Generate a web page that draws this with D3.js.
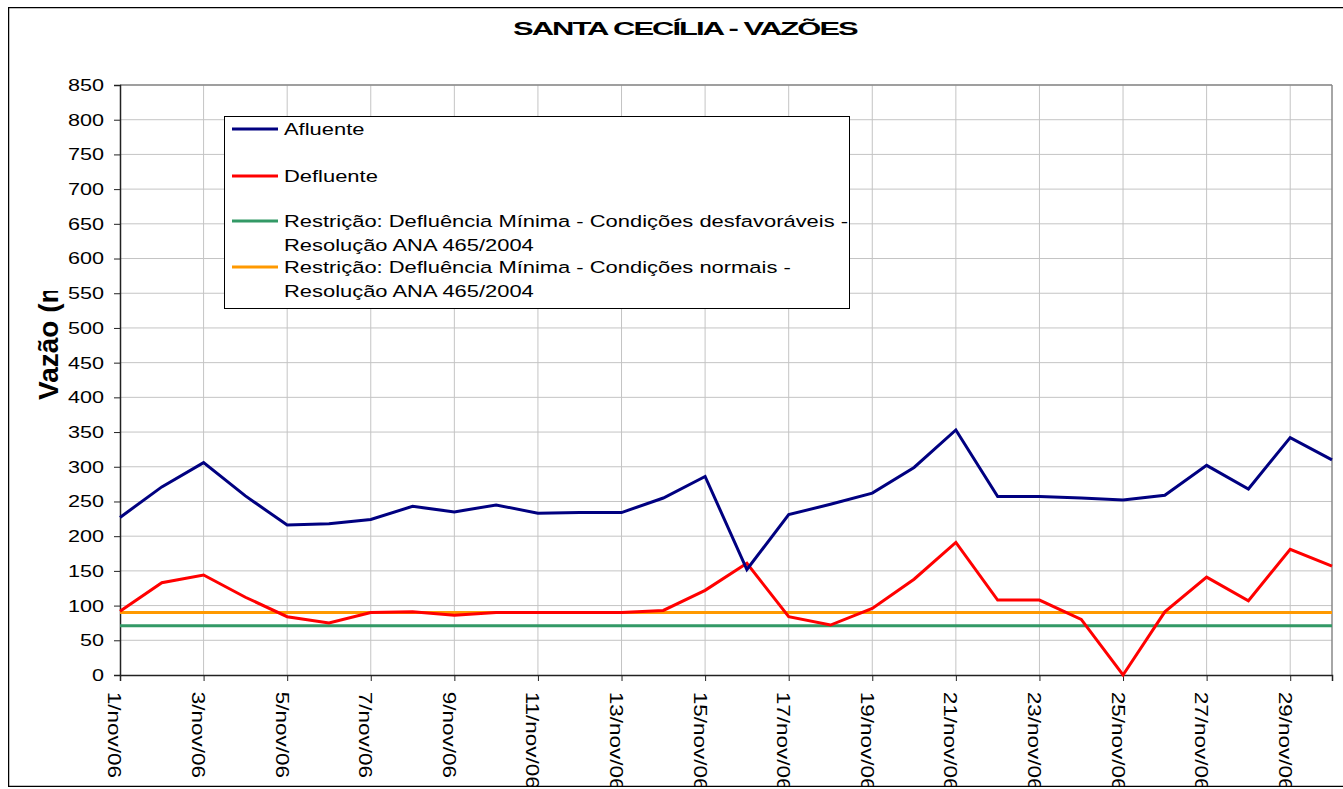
<!DOCTYPE html>
<html>
<head>
<meta charset="utf-8">
<script src="https://cdn.jsdelivr.net/npm/d3@7"></script>
<style>
  body { margin: 0; background: #fff; }
  svg { display: block; font-family: "Liberation Sans", Arial, sans-serif; }
</style>
</head>
<body>
<svg id="chart"></svg>
<script>
const width = 1343;
const height = 789;

// dias de novembro/2006
const days = d3.range(1, 31);
const afluente = [227, 271, 306, 258, 216, 218, 224, 243, 235, 245,
                  233, 234, 234, 255, 286, 152, 231, 246, 262, 299,
                  353, 257, 257, 255, 252, 259, 302, 268, 342, 310];
const defluente = [92, 133, 144, 112, 84, 75, 90, 91, 86, 90,
                   90, 90, 90, 93, 122, 161, 84, 72, 96, 138,
                   191, 108, 108, 80, 0, 91, 141, 107, 181, 157];
const restrDesfav = 71;
const restrNormal = 90;
const yTicks = d3.range(0, 851, 50);
const xTicks = d3.range(1, 31, 2);

const series = [
  { name: "Afluente", color: "#000080", values: afluente },
  { name: "Defluente", color: "#ff0000", values: defluente },
  { name: ["Restrição: Defluência Mínima - Condições desfavoráveis -", "Resolução ANA 465/2004"],
    color: "#339966", values: days.map(() => restrDesfav) },
  { name: ["Restrição: Defluência Mínima - Condições normais -", "Resolução ANA 465/2004"],
    color: "#ff9900", values: days.map(() => restrNormal) }
];

const stretch = 1.27; // o texto do original é mais largo que a fonte

const svg = d3.select("#chart").attr("width", width).attr("height", height);

const x = d3.scaleLinear().domain([1, 30]).range([120, 1332]);
const y = d3.scaleLinear().domain([0, 850]).range([675, 85]);

const defs = svg.append("defs");
defs.append("clipPath").attr("id", "frame")
  .append("rect").attr("x", 8).attr("y", 7).attr("width", 1340).attr("height", 780);
defs.append("clipPath").attr("id", "ylab")
  .append("rect").attr("x", 20).attr("y", 291).attr("width", 60).attr("height", 130);

const root = svg.append("g").attr("clip-path", "url(#frame)");

// moldura externa
root.append("rect")
  .attr("x", 8.5).attr("y", 7.5).attr("width", 1345).attr("height", 779)
  .attr("fill", "none").attr("stroke", "#000").attr("stroke-width", 1.5);

// título (esticado até a largura do original)
const title = root.append("text")
  .style("font-size", "19px").style("font-weight", "bold").style("letter-spacing", "-1.2px")
  .text("SANTA CECÍLIA - VAZÕES");
const tw = title.node().getComputedTextLength();
title.attr("transform", `translate(513,35) scale(${344 / tw},1)`);

// grade
root.append("g").selectAll("line").data(yTicks.slice(1))
  .join("line")
  .attr("x1", 120).attr("x2", 1332)
  .attr("y1", d => y(d)).attr("y2", d => y(d))
  .attr("stroke", "#c4c4c4").attr("stroke-width", 1);
root.append("g").selectAll("line").data(xTicks.slice(1))
  .join("line")
  .attr("x1", d => x(d)).attr("x2", d => x(d))
  .attr("y1", 85).attr("y2", 675)
  .attr("stroke", "#c4c4c4").attr("stroke-width", 1);
root.append("line")
  .attr("x1", 1332).attr("x2", 1332).attr("y1", 85).attr("y2", 675)
  .attr("stroke", "#888").attr("stroke-width", 1.5);
root.append("line")
  .attr("x1", 120).attr("x2", 1332).attr("y1", 85).attr("y2", 85)
  .attr("stroke", "#888").attr("stroke-width", 1.5);

// eixo Y
const yAxis = root.append("g").attr("transform", "translate(120,0)")
  .call(d3.axisLeft(y).tickValues(yTicks).tickSize(6));
yAxis.select(".domain").attr("stroke", "#222").attr("stroke-width", 1.5);
yAxis.selectAll(".tick line").attr("stroke", "#222");
yAxis.selectAll(".tick text")
  .attr("x", -16 / stretch)
  .attr("transform", `scale(${stretch},1)`)
  .style("font-size", "17px").attr("fill", "#000");

// eixo X
const xAxis = root.append("g").attr("transform", "translate(0,675)")
  .call(d3.axisBottom(x).tickValues(xTicks).tickSize(6).tickFormat(d => d + "/nov/06"));
xAxis.select(".domain").attr("stroke", "#222").attr("stroke-width", 1.5);
xAxis.selectAll(".tick line").attr("stroke", "#222");
xAxis.selectAll(".tick text")
  .attr("transform", `rotate(90) scale(${stretch - 0.02},1)`)
  .attr("x", 17 / stretch).attr("y", 12).attr("dy", null)
  .attr("text-anchor", "start")
  .style("font-size", "18px").attr("fill", "#000");

// título do eixo Y (cortado no original)
root.append("g").attr("clip-path", "url(#ylab)")
  .append("text")
  .attr("transform", "translate(58,400) rotate(-90)")
  .style("font-size", "28px").style("font-weight", "bold")
  .text("Vazão (m³/s)");

// linhas
const line = d3.line().x((d, i) => x(days[i])).y(d => y(d));
root.append("g").selectAll("path").data(series.slice().reverse())
  .join("path")
  .attr("d", d => line(d.values))
  .attr("fill", "none")
  .attr("stroke", d => d.color)
  .attr("stroke-width", 3)
  .attr("stroke-linejoin", "miter");

// legenda
const legend = root.append("g");
legend.append("rect")
  .attr("x", 224.5).attr("y", 116.5).attr("width", 625).attr("height", 192)
  .attr("fill", "#fff").attr("stroke", "#000").attr("stroke-width", 1);
const legendY = [129, 176, 221, 267];
series.forEach((s, i) => {
  const g = legend.append("g").attr("transform", `translate(0,${legendY[i]})`);
  g.append("line").attr("x1", 232).attr("x2", 278).attr("y1", 0).attr("y2", 0)
    .attr("stroke", s.color).attr("stroke-width", 3);
  const names = Array.isArray(s.name) ? s.name : [s.name];
  names.forEach((n, j) => {
    g.append("text")
      .attr("transform", `translate(284,${6 + j * 23.5}) scale(1.29,1)`)
      .style("font-size", "17px")
      .text(n);
  });
});
</script>
</body>
</html>
